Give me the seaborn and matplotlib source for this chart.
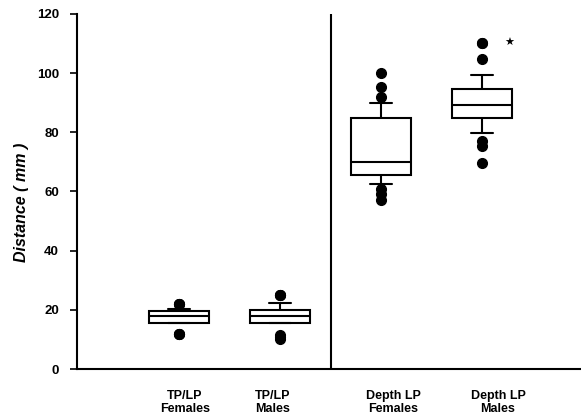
import matplotlib
matplotlib.use("Agg")
import matplotlib.pyplot as plt
import matplotlib.transforms as mtransforms
import seaborn as sns
import pandas as pd

# ---- data ----
categories = ["TP/LP\nFemales", "TP/LP\nMales", "Depth LP\nFemales", "Depth LP\nMales"]

tp_females = [12.0, 12.0, 12.0, 15.5, 15.5, 15.6, 15.6, 15.7, 15.7, 16.0, 16.4,
              16.8, 17.2, 17.5, 17.8, 18.0, 18.3, 18.6, 18.9, 19.1, 19.3, 19.5,
              19.6, 19.6, 19.8, 20.0, 20.2, 20.3, 22.0, 22.0, 22.0]
tp_males = [10.0, 10.8, 11.5, 15.4, 15.5, 15.5, 15.6, 15.7, 15.7, 16.0, 16.4,
            16.8, 17.2, 17.5, 17.8, 18.0, 18.4, 18.8, 19.1, 19.4, 19.7, 19.9,
            20.0, 20.0, 20.6, 21.2, 21.8, 22.3, 25.0, 25.0, 25.0]
depth_females = [57.2, 59.0, 60.8, 62.4, 63.0, 64.0, 65.0, 65.6, 65.6, 66.5, 67.3,
                 68.0, 68.6, 69.2, 69.6, 70.0, 72.0, 74.5, 77.0, 79.5, 82.0, 84.0,
                 84.8, 84.8, 86.0, 87.5, 89.0, 89.8, 92.0, 95.2, 100.2]
depth_males = [69.5, 75.5, 77.0, 79.7, 81.0, 82.5, 84.0, 84.8, 84.8, 85.5, 86.3,
               87.0, 87.7, 88.3, 88.8, 89.2, 90.0, 91.0, 92.0, 92.8, 93.5, 94.0,
               94.5, 94.5, 96.0, 97.5, 98.8, 99.4, 104.7, 110.1, 110.1]

yticks = [0, 20, 40, 60, 80, 100, 120]
ylabel = "Distance ( mm )"
star_label = "\u2605"

series = [tp_females, tp_males, depth_females, depth_males]
df = pd.DataFrame({
    "group": [c for c, s in zip(categories, series) for _ in s],
    "value": [v for s in series for v in s],
})

sns.set_style("ticks")
plt.rcParams["font.family"] = ["Liberation Sans", "DejaVu Sans"]
plt.rcParams["text.color"] = "black"
plt.rcParams["xtick.color"] = "black"
plt.rcParams["ytick.color"] = "black"
plt.rcParams["axes.labelcolor"] = "black"

fig = plt.figure(figsize=(5.81, 4.19), dpi=100)
ax = fig.add_axes([77 / 581, 1 - 369 / 419, (581 - 77) / 581, (369 - 14) / 419])

sns.boxplot(
    data=df, x="group", y="value", order=categories, ax=ax,
    whis=(10, 90), width=0.6, color="white", linecolor="black", linewidth=1.5,
    flierprops=dict(marker="o", markerfacecolor="black", markeredgecolor="black",
                    markersize=7),
)

# narrower caps like the reference
for cont in ax.containers:
    caps = getattr(cont, "caps", None)
    if caps is None:
        continue
    for cap in caps:
        xd = cap.get_xdata()
        c = (xd[0] + xd[1]) / 2
        cap.set_xdata([c - 0.11, c + 0.11])

ax.axvline(1.5, color="black", lw=1.5)

ax.text(3.27, 110.2, star_label, ha="center", va="center", fontsize=8,
        family="DejaVu Sans", color="black")

ax.set_xlim(-1.01, 3.98)
ax.set_ylim(0, 120)
ax.set_yticks(yticks)
ax.set_yticklabels([str(t) for t in yticks], fontsize=9.5, fontweight="bold")
ax.set_xticks(range(len(categories)))
ax.set_xticklabels(categories, fontsize=9, fontweight="bold", linespacing=1.1)
ax.tick_params(axis="x", length=0, pad=15, colors="black")
ax.tick_params(axis="y", length=5, width=1.2, pad=8, direction="out", colors="black")
ax.set_xlabel("")
ax.set_ylabel(ylabel, fontsize=11.5, fontweight="bold", fontstyle="italic",
              color="black")
ax.yaxis.set_label_coords(-0.095, 0.47)

# small horizontal offsets of the category labels, as in the reference
label_shift_px = [6, -7, 12, 16]
for lbl, dx in zip(ax.get_xticklabels(), label_shift_px):
    lbl.set_transform(lbl.get_transform() +
                      mtransforms.ScaledTranslation(dx / 100, 0, fig.dpi_scale_trans))

for s in ["top", "right"]:
    ax.spines[s].set_visible(False)
for s in ["left", "bottom"]:
    ax.spines[s].set_linewidth(1.5)
    ax.spines[s].set_color("black")

fig.savefig("out.png", dpi=100)
